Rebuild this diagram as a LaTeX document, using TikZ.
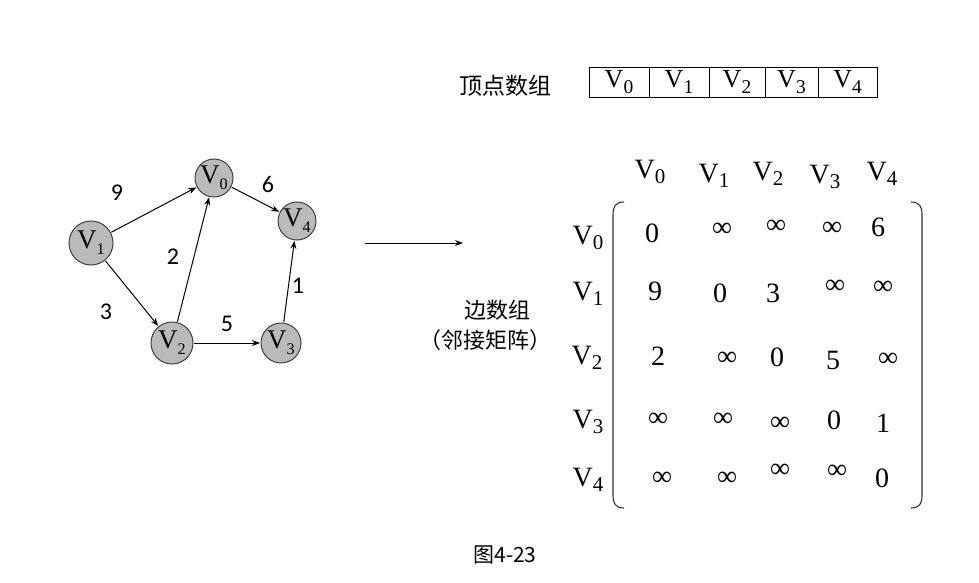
\documentclass[tikz,border=0pt]{standalone}
\usepackage{fontspec}
\usepackage{graphicx}
\setmainfont{Liberation Serif}
\newfontfamily\cjk{Noto Sans CJK SC}
\newfontfamily\labfont{Carlito}
\usetikzlibrary{arrows.meta}
\newcommand\vsub[1]{V\raisebox{-0.2em}{\scalebox{0.75}{#1}}}
\newcommand\gsub[1]{V\raisebox{-0.22em}{\scalebox{0.6}{#1}}}
\begin{document}
\begin{tikzpicture}[x=1pt,y=-1pt,
  vert/.style={circle,draw=black!75,fill=black!27,line width=1pt,minimum size=40pt,inner sep=0pt,font=\fontsize{27}{27}\selectfont},
  edge/.style={line width=1pt,-{Stealth[length=8pt,width=6pt]},shorten >=0.5pt,shorten <=0.5pt},
  wlab/.style={font=\labfont\fontsize{24}{24}\selectfont},
  cell/.style={draw,line width=0.9pt,minimum height=30pt,inner sep=0pt,font=\fontsize{26}{26}\selectfont},
  hdr/.style={font=\fontsize{28}{28}\selectfont,inner sep=0pt},
  ent/.style={font=\fontsize{28}{28}\selectfont,inner sep=0pt},
  cn/.style={font=\cjk\fontsize{22}{22}\selectfont,inner sep=0pt},
  brk/.style={line width=1.1pt,black!80}]
\useasboundingbox (0,0) rectangle (979,583);
% graph
\node[vert,minimum size=38pt] (v0) at (214,178) {\gsub{0}};
\node[vert,minimum size=44pt] (v1) at (91,243) {\gsub{1}};
\node[vert,minimum size=42pt] (v2) at (172,343) {\gsub{2}};
\node[vert,minimum size=40pt] (v3) at (281,343) {\gsub{3}};
\node[vert,minimum size=38pt] (v4) at (297,221) {\gsub{4}};
\draw[edge] (v1) -- (v0);
\draw[edge] (v1) -- (v2);
\draw[edge] (v2) -- (v0);
\draw[edge] (v2) -- (v3);
\draw[edge] (v3) -- (v4);
\draw[edge] (v0) -- (v4);
\node[wlab] (w9) at (117,193) {9};
\node[wlab] (w6) at (268,184) {6};
\node[wlab] (w2) at (173,257) {2};
\node[wlab] (w3) at (106,312) {3};
\node[wlab] (w5) at (227,324) {5};
\node[wlab] (w1) at (298,286) {1};
% big arrow
\coordinate (a1) at (365,243);
\coordinate (a2) at (463,243);
\draw[line width=1pt,-{Stealth[length=8pt,width=6pt]}] (a1) -- (a2);
% vertex array
\node[cn,font=\cjk\fontsize{23}{23}\selectfont] (tl) at (505,86) {顶点数组};
\node[cell,minimum width=60pt] (c0) at (619,82) {\vsub{0}};
\node[cell,minimum width=60pt] (c1) at (679,82) {\vsub{1}};
\node[cell,minimum width=56pt] (c2) at (737,82) {\vsub{2}};
\node[cell,minimum width=53pt] (c3) at (791.5,82) {\vsub{3}};
\node[cell,minimum width=59pt] (c4) at (847.5,82) {\vsub{4}};
% edge array label
\node[cn] (el1) at (497,310) {边数组};
\node[cn] (el2) at (485,340) {（邻接矩阵）};
% headers
\node[hdr] (h0) at (650,172) {\vsub{0}};
\node[hdr] (h1) at (714,176) {\vsub{1}};
\node[hdr] (h2) at (768,174) {\vsub{2}};
\node[hdr] (h3) at (825,177) {\vsub{3}};
\node[hdr] (h4) at (882,174) {\vsub{4}};
\node[hdr] (r0) at (588,238) {\vsub{0}};
\node[hdr] (r1) at (588,294) {\vsub{1}};
\node[hdr] (r2) at (587,358) {\vsub{2}};
\node[hdr] (r3) at (588,422) {\vsub{3}};
\node[hdr] (r4) at (588,480) {\vsub{4}};
% brackets
\coordinate (lb1) at (624,202); \coordinate (lb2) at (613,215);
\coordinate (lb3) at (613,495); \coordinate (lb4) at (624,508);
\draw[brk] (lb1) .. controls (615,202) and (613,207) .. (lb2) -- (lb3) .. controls (613,503) and (615,508) .. (lb4);
\coordinate (rb1) at (911,202); \coordinate (rb2) at (922,215);
\coordinate (rb3) at (922,495); \coordinate (rb4) at (911,508);
\draw[brk] (rb1) .. controls (920,202) and (922,207) .. (rb2) -- (rb3) .. controls (922,503) and (920,508) .. (rb4);
% entries
\node[ent] (m00) at (652,233) {0};
\node[ent] (m01) at (722,230) {∞};
\node[ent] (m02) at (776,227) {∞};
\node[ent] (m03) at (832,229) {∞};
\node[ent] (m04) at (878,227) {6};
\node[ent] (m10) at (655,291) {9};
\node[ent] (m11) at (720,293) {0};
\node[ent] (m12) at (773,293) {3};
\node[ent] (m13) at (835,287) {∞};
\node[ent] (m14) at (883,288) {∞};
\node[ent] (m20) at (658,356) {2};
\node[ent] (m21) at (727,359) {∞};
\node[ent] (m22) at (777,357) {0};
\node[ent] (m23) at (833,360) {5};
\node[ent] (m24) at (888,360) {∞};
\node[ent] (m30) at (658,420) {∞};
\node[ent] (m31) at (723,420) {∞};
\node[ent] (m32) at (780,424) {∞};
\node[ent] (m33) at (834,420) {0};
\node[ent] (m34) at (883,423) {1};
\node[ent] (m40) at (662,479) {∞};
\node[ent] (m41) at (727,479) {∞};
\node[ent] (m42) at (780,471) {∞};
\node[ent] (m43) at (837,472) {∞};
\node[ent] (m44) at (882,478) {0};
% caption
\node[cn,font=\cjk\fontsize{21}{21}\selectfont] (cap) at (505,555) {图4-23};
\end{tikzpicture}
\end{document}
